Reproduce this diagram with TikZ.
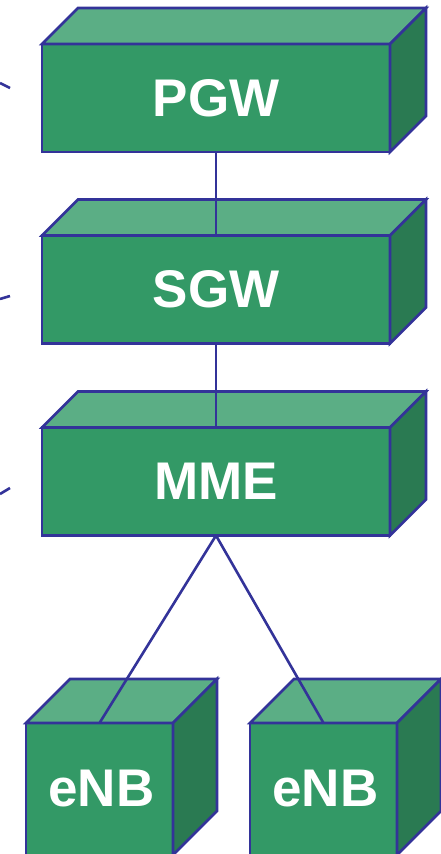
\documentclass[tikz,border=0pt]{standalone}
\usepackage{fontspec}
\setmainfont{Liberation Sans}
\definecolor{frontgreen}{HTML}{339966}
\definecolor{topgreen}{HTML}{5BAE85}
\definecolor{sidegreen}{HTML}{2A7A52}
\definecolor{edgeblue}{HTML}{333399}

\tikzset{
  edge/.style={draw=edgeblue, line width=2.6pt},
  label/.style={text=white, font=\fontsize{53}{53}\selectfont\bfseries},
  box/.style={edge, fill=frontgreen, rectangle, inner sep=0pt, outer sep=0pt, label},
  bigbox/.style={box, minimum width=348pt, minimum height=108pt},
  smallbox/.style={box, minimum width=147pt, minimum height=132pt},
  topface/.style={edge, fill=topgreen},
  sideface/.style={edge, fill=sidegreen},
  link/.style={edge}
}

% top and right faces of a box drawn as a cuboid
\newcommand{\cubefaces}[2]{%
  \filldraw[topface] (#1.north west) -- ++(#2,-#2)
    -- ([shift={(#2,-#2)}]#1.north east) -- (#1.north east) -- cycle;
  \filldraw[sideface] (#1.north east) -- ++(#2,-#2)
    -- ([shift={(#2,-#2)}]#1.south east) -- (#1.south east) -- cycle;
}

\begin{document}
\begin{tikzpicture}[x=1pt, y=-1pt]
  \useasboundingbox (0,0) rectangle (441,854);
  \clip (0,0) rectangle (441,854);

  % network elements
  \node[bigbox] (pgw) at (216,98) {PGW};
  \node[bigbox] (sgw) at (216,289.5) {SGW};
  \node[bigbox] (mme) at (216,481.5) {MME};
  \node[smallbox] (enb1) at (99.5,789) {};
  \node[smallbox] (enb2) at (323.5,789) {};

  \cubefaces{pgw}{36}
  \cubefaces{sgw}{36}
  \cubefaces{mme}{36}
  \cubefaces{enb1}{44}
  \cubefaces{enb2}{44}

  \node[label] (enb1t) at ([xshift=2pt]enb1) {eNB};
  \node[label] (enb2t) at ([xshift=2pt]enb2) {eNB};

  % interfaces between elements
  \draw[link] (pgw.south) -- (sgw.north);
  \draw[link] (sgw.south) -- (mme.north);
  \draw[link] (mme.south) -- (enb1.north);
  \draw[link] (mme.south) -- (enb2.north);

  % interfaces leaving to the left
  \coordinate (p0) at (0,83);   \coordinate (p1) at (10,88);
  \coordinate (s0) at (0,299);  \coordinate (s1) at (10,296);
  \coordinate (m0) at (0,494);  \coordinate (m1) at (10,488);
  \draw[link] (p0) -- (p1);
  \draw[link] (s0) -- (s1);
  \draw[link] (m0) -- (m1);
\end{tikzpicture}
\end{document}
